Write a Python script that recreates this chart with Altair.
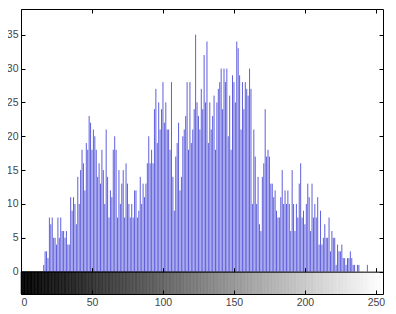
import altair as alt
import pandas as pd

# Histogram counts for grey levels 0..255
counts = (
    [0] * 16
    + [1, 3, 3, 2, 8, 7, 8, 5, 5, 4, 8, 5, 8, 6, 6, 5, 6, 4, 4, 11, 9, 11, 10, 7, 14, 10, 15]
    + [18, 16, 12, 19, 18, 23, 22, 18, 21, 20, 18, 14, 16, 13, 18, 15, 10, 21, 14, 8, 12, 11, 18, 20, 18, 8, 15, 10, 13]
    + [15, 8, 16, 13, 10, 8, 10, 8, 12, 12, 8, 9, 14, 10, 13, 11, 13, 16, 20, 16, 18, 16, 24, 27, 19, 25, 21, 24, 28]
    + [22, 25, 21, 21, 18, 28, 14, 9, 17, 19, 22, 12, 14, 20, 21, 23, 28, 18, 28, 19, 21, 24, 35, 25, 23, 21, 27, 24, 32]
    + [25, 34, 19, 25, 21, 23, 26, 18, 25, 27, 28, 30, 24, 30, 28, 30, 20, 26, 18, 29, 28, 25, 34, 33, 29, 21, 28, 24, 28]
    + [27, 26, 30, 27, 10, 21, 17, 10, 14, 7, 6, 14, 16, 24, 17, 18, 17, 13, 13, 11, 12, 9, 8, 8, 11, 15, 10, 12, 10]
    + [12, 10, 6, 15, 10, 6, 10, 8, 13, 16, 8, 9, 7, 10, 13, 11, 6, 13, 8, 10, 8, 11, 4, 9, 4, 5, 7, 5]
    + [5, 8, 3, 6, 5, 5, 1, 4, 3, 3, 4, 2, 2, 1, 2, 2, 3, 2, 1, 1, 0, 1, 1, 0, 0, 0, 0, 0, 1, 0,
       0, 0, 0, 0, 0, 0, 0, 0, 0, 0]
)
bins = list(range(256))
x_ticks = [0, 50, 100, 150, 200, 250]
y_ticks = [0, 5, 10, 15, 20, 25, 30, 35]
x_domain = [0, 255]
y_domain = [-3.3, 38.8]

W, H = 362, 285
zero_off = H * y_domain[1] / (y_domain[1] - y_domain[0])

BAR = "#2a2ad0"
FONT = "Liberation Sans"

hist = pd.DataFrame({"bin": bins, "n": counts, "base": [0] * 256})
grays = [round(i * 255 / 254) for i in range(255)]
cb = pd.DataFrame({
    "lo": bins[:-1],
    "hi": bins[1:],
    "bottom": [y_domain[0]] * 255,
    "top": [0] * 255,
    "gray": [f"#{v:02x}{v:02x}{v:02x}" for v in grays],
})

xs = alt.Scale(domain=x_domain, nice=False, zero=False)
ys = alt.Scale(domain=y_domain, nice=False, zero=False)

ax = dict(zindex=1, domainColor="#000000", tickColor="#000000", domainWidth=1,
          tickWidth=1, grid=False, title=None, labelFont=FONT, labelFontSize=10.5,
          labelColor="#444444")

# colour bar + labelled bottom / left axes
colorbar = alt.Chart(cb).mark_rect(strokeWidth=0.6).encode(
    x=alt.X("lo:Q", scale=xs, axis=alt.Axis(orient="bottom", values=x_ticks, tickSize=0,
                                            labelPadding=3, **ax)),
    x2="hi:Q",
    y=alt.Y("bottom:Q", scale=ys, axis=alt.Axis(orient="left", values=y_ticks, tickSize=0,
                                               labelPadding=3, **ax)),
    y2="top:Q",
    fill=alt.Fill("gray:N", scale=None),
    stroke=alt.Stroke("gray:N", scale=None),
)

# histogram stems + top border (inward ticks) + right border (inward ticks)
bars = alt.Chart(hist).transform_filter("datum.n > 0").mark_rule(color=BAR, strokeWidth=0.75).encode(
    x=alt.X("bin:Q", scale=xs, axis=alt.Axis(orient="bottom", offset=-H, values=x_ticks,
                                             labels=False, tickSize=4, **ax)),
    y=alt.Y("n:Q", scale=ys, axis=alt.Axis(orient="left", offset=-W, values=y_ticks,
                                           labels=False, tickSize=4, **ax)),
    y2="base:Q",
)

# zero line with upward ticks + left inward ticks
zero_layer = alt.Chart(hist).mark_point(opacity=0).encode(
    x=alt.X("bin:Q", scale=xs, axis=alt.Axis(orient="top", offset=-zero_off, values=x_ticks,
                                             labels=False, tickSize=4, **ax)),
    y=alt.Y("n:Q", scale=ys, axis=alt.Axis(orient="right", offset=-W, values=y_ticks,
                                           labels=False, tickSize=4, domain=False, **ax)),
)

# bottom inward ticks
bottom_ticks = alt.Chart(hist).mark_point(opacity=0).encode(
    x=alt.X("bin:Q", scale=xs, axis=alt.Axis(orient="top", offset=-H, values=x_ticks,
                                             labels=False, tickSize=4, domain=False, **ax)),
    y=alt.Y("n:Q", scale=ys, axis=None),
)

chart = (
    alt.layer(colorbar, bars, zero_layer, bottom_ticks)
    .resolve_axis(x="independent", y="independent")
    .properties(
        width=W, height=H,
        autosize=alt.AutoSizeParams(type="none"),
        padding={"left": 13, "top": 1, "right": 5, "bottom": 16},
        background="white",
    )
    .configure_view(strokeWidth=0)
)

chart.save("out.html", embed_options={"renderer": "svg", "actions": False})
